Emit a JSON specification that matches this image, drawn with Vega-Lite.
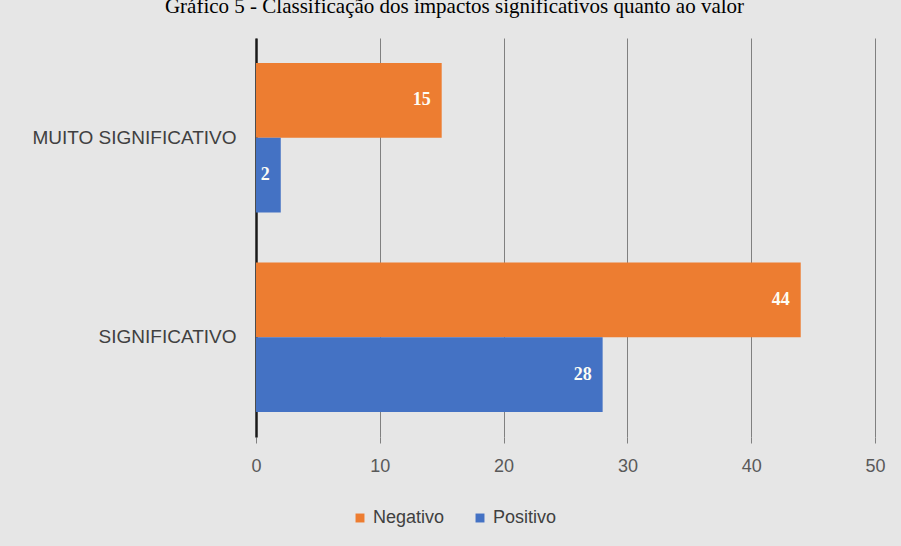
{
  "$schema": "https://vega.github.io/schema/vega-lite/v6.json",
  "width": 619,
  "height": 399,
  "autosize": {"type": "none"},
  "padding": {"left": 256, "top": 38, "right": 26, "bottom": 109},
  "background": "#e6e6e6",
  "title": {
    "text": "Gráfico 5 - Classificação dos impactos significativos quanto ao valor",
    "font": "Liberation Serif",
    "fontSize": 21,
    "fontWeight": "normal",
    "color": "#000000",
    "anchor": "middle",
    "dx": -111,
    "offset": 0,
    "baseline": "bottom"
  },
  "config": {"view": {"stroke": null}},
  "data": {
    "values": [
      {"categoria": "MUITO SIGNIFICATIVO", "tipo": "Negativo", "valor": 15},
      {"categoria": "MUITO SIGNIFICATIVO", "tipo": "Positivo", "valor": 2},
      {"categoria": "SIGNIFICATIVO", "tipo": "Negativo", "valor": 44},
      {"categoria": "SIGNIFICATIVO", "tipo": "Positivo", "valor": 28}
    ]
  },
  "encoding": {
    "y": {
      "field": "categoria",
      "type": "nominal",
      "sort": ["MUITO SIGNIFICATIVO", "SIGNIFICATIVO"],
      "scale": {"paddingInner": 0.25, "paddingOuter": 0.125},
      "axis": {
        "title": null,
        "ticks": false,
        "domain": true,
        "domainColor": "#1a1a1a",
        "domainWidth": 2.5,
        "labelFont": "Liberation Sans",
        "labelFontSize": 19,
        "labelColor": "#404040",
        "labelPadding": 20,
        "labelLimit": 0
      }
    },
    "yOffset": {
      "field": "tipo",
      "sort": ["Negativo", "Positivo"],
      "scale": {"paddingInner": 0, "paddingOuter": 0}
    },
    "x": {
      "field": "valor",
      "type": "quantitative",
      "scale": {"domain": [0, 50], "nice": false},
      "axis": {
        "title": null,
        "values": [0, 10, 20, 30, 40, 50],
        "domain": false,
        "grid": true,
        "gridColor": "#808080",
        "gridWidth": 1,
        "ticks": true,
        "tickColor": "#808080",
        "tickSize": 6,
        "labelFlush": false,
        "labelFont": "Liberation Sans",
        "labelFontSize": 18,
        "labelColor": "#595959",
        "labelPadding": 14
      }
    }
  },
  "layer": [
    {
      "mark": {"type": "bar"},
      "encoding": {
        "color": {
          "field": "tipo",
          "type": "nominal",
          "scale": {"domain": ["Negativo", "Positivo"], "range": ["#ED7D31", "#4472C4"]},
          "legend": {
            "title": null,
            "orient": "none",
            "direction": "horizontal",
            "legendX": 95,
            "legendY": 471,
            "symbolType": "square",
            "symbolSize": 80,
            "symbolStrokeWidth": 0,
            "labelFont": "Liberation Sans",
            "labelFontSize": 18,
            "labelColor": "#404040",
            "columnPadding": 26,
            "labelOffset": 4
          }
        }
      }
    },
    {
      "mark": {
        "type": "text",
        "align": "right",
        "baseline": "middle",
        "dx": -11,
        "font": "Liberation Serif",
        "fontWeight": "bold",
        "fontSize": 18,
        "color": "#fdfdf5"
      },
      "encoding": {"text": {"field": "valor", "type": "quantitative"}}
    }
  ]
}
